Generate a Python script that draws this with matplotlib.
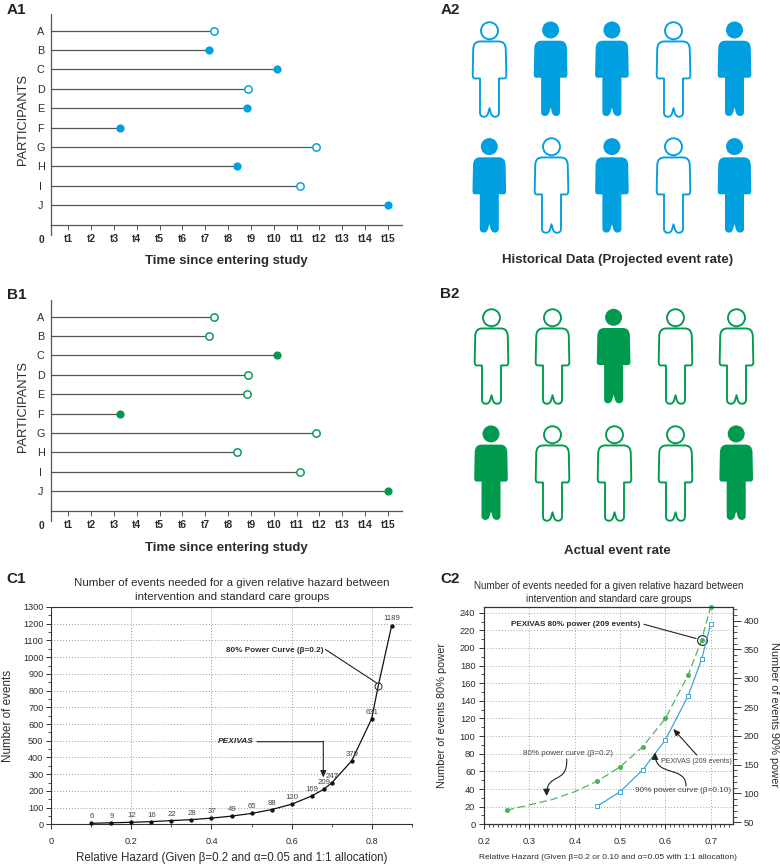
#!/usr/bin/env python3
import matplotlib

matplotlib.use("Agg")
import matplotlib.pyplot as plt
from matplotlib.patches import FancyArrowPatch
from matplotlib.path import Path
from matplotlib.ticker import FixedLocator, MultipleLocator

plt.rcParams["font.family"] = ["Liberation Sans", "DejaVu Sans"]

W, H = 780, 865
BLUE = "#009FE0"
GREEN = "#009A4E"
TEXT = "#2b2b2b"
GREY = "#444444"

participants = ["A", "B", "C", "D", "E", "F", "G", "H", "I", "J"]
followup = [7.39, 7.18, 10.12, 8.88, 8.82, 3.25, 11.86, 8.40, 11.15, 15.0]
time_ticks = list(range(1, 16))
events_a = [0, 1, 1, 0, 1, 1, 0, 1, 0, 1]
events_b = [0, 0, 1, 0, 0, 1, 0, 0, 0, 1]

people_a = [[0, 1, 1, 0, 1], [1, 0, 1, 0, 1]]
people_b = [[0, 0, 1, 0, 0], [1, 0, 0, 0, 1]]

c1_hazard = [0.1, 0.15, 0.2, 0.25, 0.3, 0.35, 0.4, 0.45, 0.5, 0.55, 0.6, 0.65, 0.68, 0.7, 0.75, 0.8, 0.85]
c1_events = [6, 9, 12, 16, 22, 28, 37, 49, 65, 88, 120, 169, 209, 247, 379, 631, 1189]
c1_circle_x = 0.8165
c1_circle_y = 829

c2_hazard_80 = [0.25, 0.3, 0.35, 0.4, 0.45, 0.5, 0.55, 0.6, 0.65, 0.68, 0.7]
c2_events_80 = [16, 22, 28, 37, 49, 65, 88, 120, 169, 209, 247]
c2_marked_80 = [0, 4, 5, 6, 7, 8, 9, 10]
c2_hazard_90 = [0.45, 0.5, 0.55, 0.6, 0.65, 0.68, 0.7]
c2_events_90 = [78, 103, 141, 193, 269, 333, 394]

fig = plt.figure(figsize=(W / 100, H / 100), dpi=100)


def px_axes(left, top, right, bottom):
    return fig.add_axes([left / W, 1 - bottom / H, (right - left) / W, (bottom - top) / H])


def fp(x, y):
    return (x / W, 1 - y / H)


def ftext(x, y, s, **kw):
    kw.setdefault("ha", "center")
    kw.setdefault("va", "center")
    kw.setdefault("color", TEXT)
    fig.text(x / W, 1 - y / H, s, **kw)


def line_px(start, end, head=False, color="#222222", lw=0.8):
    style = "-|>,head_length=0.5,head_width=0.22" if head else "-"
    fig.add_artist(
        FancyArrowPatch(fp(*start), fp(*end), transform=fig.transFigure, arrowstyle=style,
                        mutation_scale=8, color=color, lw=lw, shrinkA=0, shrinkB=0)
    )


def curve_px(points, color="#222222", lw=0.8):
    verts = [fp(*p) for p in points]
    codes = [Path.MOVETO] + [Path.CURVE4] * (len(verts) - 1)
    fig.add_artist(
        FancyArrowPatch(path=Path(verts, codes), transform=fig.transFigure,
                        arrowstyle="-|>,head_length=0.5,head_width=0.25",
                        mutation_scale=8, color=color, lw=lw)
    )


def person_marker():
    # left half of the figure, y up, head centre at 0, in reference pixels
    left = [
        (-9, -10.7), (-13.5, -10.7), (-16.2, -12.8), (-16.3, -19), (-16.8, -44),
        (-16.9, -46.5), (-16, -47.7), (-14.5, -47.7), (-9.5, -47.7), (-9.5, -82),
        (-9.5, -85), (-7.5, -86), (-5.5, -86), (-3, -86), (-1.5, -84), (-1, -81),
    ]
    left_codes = [
        Path.LINETO, Path.CURVE4, Path.CURVE4, Path.CURVE4, Path.LINETO,
        Path.CURVE4, Path.CURVE4, Path.CURVE4, Path.LINETO, Path.LINETO,
        Path.CURVE4, Path.CURVE4, Path.CURVE4, Path.CURVE4, Path.CURVE4, Path.CURVE4,
    ]
    # right half walks the same points backwards
    right = [(-x, y) for x, y in reversed(left)]
    right_codes = list(reversed(left_codes))
    verts = [(0, -10.7)] + left + [(0, -77.5)] + right + [(0, -10.7)]
    codes = [Path.MOVETO] + left_codes + [Path.LINETO]
    codes += [Path.LINETO] + right_codes[:-1] + [Path.LINETO]
    mid = 38.75
    body = Path([(x, y + mid) for x, y in verts], codes)
    head = Path.circle((0, mid), 8.5)
    return Path.make_compound_path(body, head)


def timeline_panel(top_px, events, color, label_gap):
    bottom_px = top_px + 211
    ax = px_axes(51.3, top_px, 401.7, bottom_px)
    ax.set_xlim((51.3 - 45.5) / 22.83, (401.7 - 45.5) / 22.83)
    ax.set_ylim(10.02, -0.86)
    for row, (end, event) in enumerate(zip(followup, events)):
        ax.plot([ax.get_xlim()[0], end], [row, row], color="#555555", lw=0.9, zorder=2)
        if event:
            ax.plot(end, row, "o", ms=5.9, mec=color, mew=0, mfc=color, zorder=3, clip_on=False)
        else:
            ax.plot(end, row, "o", ms=5.3, mec=color, mew=1.05, mfc="white", zorder=3, clip_on=False)
    for name in ("top", "right"):
        ax.spines[name].set_visible(False)
    for name in ("left", "bottom"):
        ax.spines[name].set_color("#555555")
        ax.spines[name].set_linewidth(0.9)
    ax.set_xticks(time_ticks)
    ax.set_xticklabels(["t{}".format(t) for t in time_ticks], fontsize=7.4, fontweight="semibold", color=TEXT)
    ax.tick_params(axis="x", length=3.6, width=0.7, color="#555555", pad=3.2)
    ax.set_yticks(range(len(participants)))
    ax.set_yticklabels(participants, fontsize=7.8, color=TEXT, ha="center")
    ax.tick_params(axis="y", length=0, pad=7.6)
    ax.axvline(ax.get_xlim()[0], ymin=-0.047, ymax=0, color="#555555", lw=0.9, clip_on=False)
    ftext(41, bottom_px + 15, "0", fontsize=7.4, fontweight="bold")
    ftext(22.7, top_px + 106, "PARTICIPANTS", fontsize=9.3, rotation=90)
    ftext(226.7, bottom_px + label_gap, "Time since entering study", fontsize=9.5, fontweight="bold")
    return ax


def people_panel(x_first, head_top, states, color):
    # column 0..4 and row 0..1 are spaced 61.3 and 116.6 pixels apart
    left = x_first - 30.65
    top = head_top + 38.75 - 58.3
    ax = px_axes(left, top, left + 61.3 * 5, top + 116.6 * 2)
    ax.set_xlim(-0.5, 4.5)
    ax.set_ylim(1.5, -0.5)
    ax.axis("off")
    marker = person_marker()
    size = (94.5 * 0.72) ** 2
    for row, row_states in enumerate(states):
        for col, state in enumerate(row_states):
            if state:
                ax.scatter(col, row, marker=marker, s=size, facecolor=color, edgecolor="none",
                           linewidths=0, clip_on=False)
            else:
                ax.scatter(col, row, marker=marker, s=size, facecolor="white", edgecolor=color,
                           linewidths=1.35, clip_on=False)
    return ax


# A and B panels
timeline_panel(14, events_a, BLUE, 36)
timeline_panel(300, events_b, GREEN, 37.5)
people_panel(489.3, 30, people_a, BLUE)
people_panel(491, 317.3, people_b, GREEN)
ftext(617.5, 260, "Historical Data (Projected event rate)", fontsize=9.5, fontweight="bold")
ftext(617.5, 551, "Actual event rate", fontsize=9.5, fontweight="bold")

for label, x, y in [("A1", 6.5, 9.5), ("A2", 441, 9.5), ("B1", 6.5, 295), ("B2", 440, 294),
                    ("C1", 6.5, 579), ("C2", 440, 579)]:
    ftext(x, y, label, fontsize=11, fontweight="bold", ha="left", color="#222222")

# C1
ax = px_axes(51.3, 607, 411.7, 824.3)
ax.set_xlim(0, 0.9)
ax.set_ylim(0, 1300)
# the line also runs through the circled point, which has no marker of its own
c1_split = c1_hazard.index(0.85)
ax.plot(c1_hazard[:c1_split] + [c1_circle_x] + c1_hazard[c1_split:],
        c1_events[:c1_split] + [c1_circle_y] + c1_events[c1_split:],
        "-", color="#111111", lw=0.9, zorder=3, clip_on=False)
ax.plot(c1_hazard, c1_events, "o", color="#111111", ms=2.1, zorder=3, clip_on=False)
ax.plot(c1_circle_x, c1_circle_y, "o", ms=5, mfc="none", mec="#222222", mew=0.7, zorder=4)
for x, y in zip(c1_hazard, c1_events):
    ax.annotate(str(y), (x, y), xytext=(0.3, 2.2), textcoords="offset points", ha="center", va="bottom",
                fontsize=5.6, color=GREY, zorder=5)
ax.xaxis.set_major_locator(MultipleLocator(0.2))
ax.xaxis.set_minor_locator(MultipleLocator(0.1))
ax.yaxis.set_major_locator(MultipleLocator(100))
ax.yaxis.set_minor_locator(MultipleLocator(50))
ax.xaxis.set_major_formatter(lambda v, pos: "0" if abs(v) < 1e-9 else "{:.1f}".format(v))
ax.grid(True, which="major", color="#9a9a9a", lw=0.7, linestyle=(0, (1, 2)))
ax.spines["right"].set_visible(False)
for name in ("left", "bottom", "top"):
    ax.spines[name].set_color("#333333")
    ax.spines[name].set_linewidth(0.8)
ax.tick_params(axis="both", which="major", labelsize=6.6, labelcolor=TEXT, length=3.4, width=0.7, color="#333333", pad=2.2)
ax.tick_params(axis="x", which="major", pad=6)
ax.tick_params(axis="both", which="minor", length=2, width=0.6, color="#333333")
ftext(231.7, 582.7, "Number of events needed for a given relative hazard between", fontsize=8.25)
ftext(231.7, 597.3, "intervention and standard care groups", fontsize=8.25)
ftext(231.7, 858, "Relative Hazard (Given \u03b2=0.2 and \u03b1=0.05 and 1:1 allocation)", fontsize=8.3)
ftext(8, 715.5, "Number of events", fontsize=8.4, rotation=90)
ftext(324, 650, "80% Power Curve (\u03b2=0.2)", fontsize=5.85, fontweight="bold", ha="right")
line_px((325.5, 649.5), (376.7, 683))
ftext(254, 741.7, "PEXIVAS", fontsize=6, fontweight="bold", fontstyle="italic", ha="right")
line_px((257, 741.7), (323.6, 741.7))
line_px((323.3, 741.2), (323.3, 777.5), head=True)

# C2
ax = px_axes(484, 606.7, 732.7, 824.3)
ax.set_xlim(0.2, 0.7486)
ax.set_ylim(0, 246.8)
ax.plot(c2_hazard_80, c2_events_80, color="#4DB857", lw=0.9, linestyle=(0, (6, 3)), zorder=3)
ax.plot([c2_hazard_80[i] for i in c2_marked_80], [c2_events_80[i] for i in c2_marked_80], "o",
        color="#45B552", ms=2.6, zorder=4, clip_on=False)
ax.plot(0.68, 209, "o", ms=7, mfc="none", mec="#222222", mew=0.8, zorder=5)
ax.xaxis.set_major_locator(FixedLocator([0.2, 0.3, 0.4, 0.5, 0.6, 0.7]))
ax.xaxis.set_minor_locator(MultipleLocator(0.01))
ax.yaxis.set_major_locator(MultipleLocator(20))
ax.yaxis.set_minor_locator(MultipleLocator(10))
ax.xaxis.set_major_formatter(lambda v, pos: "{:.1f}".format(v))
ax.grid(True, which="major", color="#a5a5a5", lw=0.7, linestyle=(0, (1, 2)))
for name in ax.spines:
    ax.spines[name].set_color("#333333")
    ax.spines[name].set_linewidth(0.8)
ax.tick_params(axis="both", which="major", labelsize=6.7, labelcolor=TEXT, length=3.8, width=0.7, color="#333333", pad=2.4)
ax.tick_params(axis="x", which="major", pad=5)
ax.tick_params(axis="both", which="minor", length=2.4, width=0.6, color="#333333")

ax_right = ax.twinx()
ax_right.set_ylim(46.5, 424.3)
ax_right.plot(c2_hazard_90, c2_events_90, "-s", color="#3FA3DC", lw=0.9, ms=3.2, mfc="white", mec="#3FA3DC", mew=0.7,
              zorder=4, clip_on=False)
ax_right.yaxis.set_major_locator(MultipleLocator(50))
ax_right.yaxis.set_minor_locator(MultipleLocator(10))
for name in ax_right.spines:
    ax_right.spines[name].set_color("#333333")
    ax_right.spines[name].set_linewidth(0.8)
ax_right.tick_params(axis="y", which="major", labelsize=6.7, labelcolor=TEXT, length=5.5, width=0.7, color="#333333", pad=2.4)
ax_right.tick_params(axis="y", which="minor", length=3, width=0.6, color="#333333")

ftext(608.3, 586, "Number of events needed for a given relative hazard between", fontsize=7.15)
ftext(608.3, 598.5, "intervention and standard care groups", fontsize=7.15)
ftext(608, 857.7, "Relative Hazard (Given \u03b2=0.2 or 0.10 and \u03b1=0.05 with 1:1 allocation)", fontsize=6)
ftext(441.7, 715, "Number of events 80% power", fontsize=7.9, rotation=90)
ftext(774, 715, "Number of events 90% power", fontsize=7.9, rotation=270)
ftext(511, 624, "PEXIVAS 80% power (209 events)", fontsize=5.85, fontweight="bold", ha="left")
line_px((644, 624.3), (696, 638.5))
ftext(568, 753.7, "80% power curve (\u03b2=0.2)", fontsize=5.8, color=GREY)
curve_px([(566.7, 759), (568, 785), (546, 772), (546.7, 796)])
ftext(696, 761.7, "PEXIVAS (209 events)", fontsize=5, color=GREY)
line_px((696.7, 755), (673.3, 729), head=True)
ftext(683, 790.7, "90% power curve (\u03b2=0.10)", fontsize=5.9, color=GREY)
curve_px([(686, 786), (686, 765), (655, 778), (655, 752.5)])

fig.savefig("out.png", dpi=100)
plt.close(fig)
